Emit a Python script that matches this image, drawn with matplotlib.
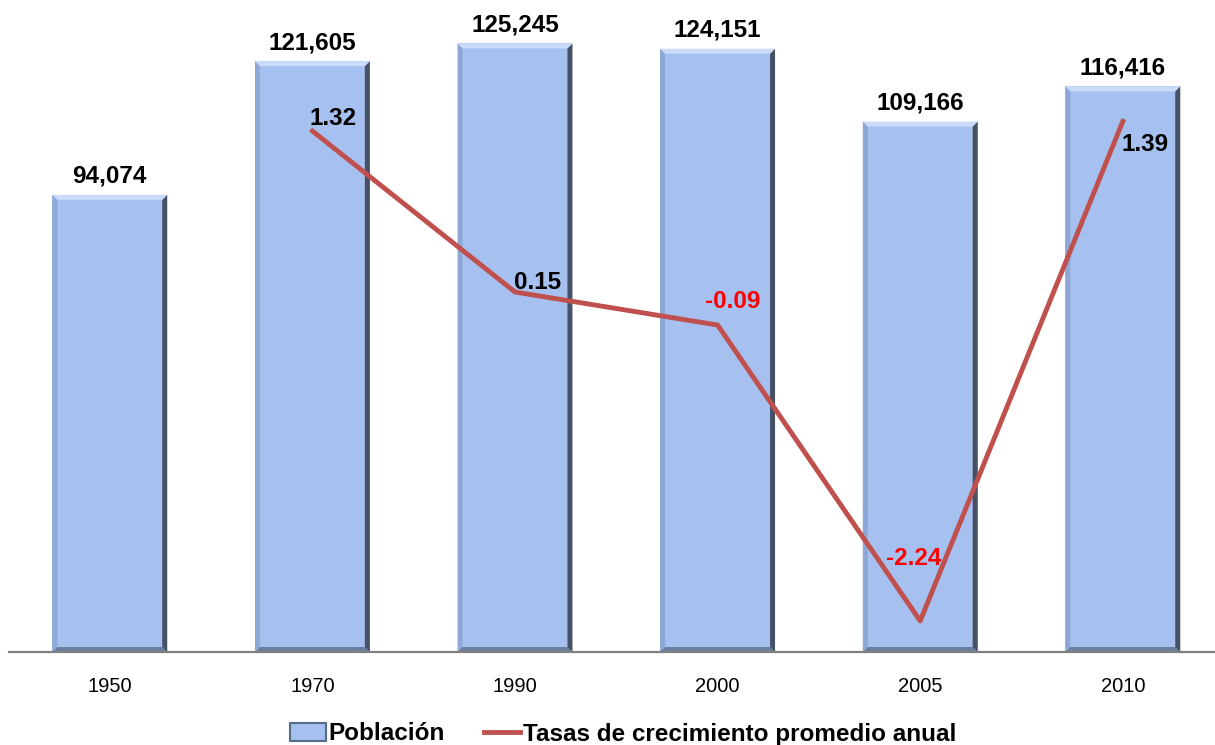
import numpy as np
import matplotlib.pyplot as plt
from matplotlib.patches import Polygon
from matplotlib.lines import Line2D
from matplotlib.patches import Patch

years = ["1950", "1970", "1990", "2000", "2005", "2010"]
poblacion = [94074, 121605, 125245, 124151, 109166, 116416]
tasa_years = ["1970", "1990", "2000", "2005", "2010"]
tasas = [1.32, 0.15, -0.09, -2.24, 1.39]

# label offsets (points) for the rate labels
tasa_offsets = [(15, 9), (16, 7), (11, 17), (-5, 45), (16, -17)]

plt.rcParams["font.family"] = ["Liberation Sans", "DejaVu Sans"]

fig = plt.figure(figsize=(12.15, 7.45), dpi=100)
ax = fig.add_axes([8.5 / 1215, 93 / 745, 1 - 8.5 / 1215, 652 / 745])
ax.set_xlim(-0.5, 5.455)
ax.set_ylim(0, 652 * 205.8)

x = np.arange(len(years))
w = 0.567
face = "#A6C1F0"
ax.bar(x, poblacion, width=w, color=face, edgecolor="none", zorder=2)

# bevel edges
bx = 5.0 / 202.8   # horizontal bevel in x units
by = 5.0 * 205.8   # vertical bevel in y units
for xi, h in zip(x, poblacion):
    l, r = xi - w / 2, xi + w / 2
    top = [(l, h), (r, h), (r - bx, h - by), (l + bx, h - by)]
    right = [(r, h), (r, 0), (r - bx, by), (r - bx, h - by)]
    bottom = [(l, 0), (r, 0), (r - bx, by), (l + bx, by)]
    left = [(l, 0), (l, h), (l + bx, h - by), (l + bx, by)]
    ax.add_patch(Polygon(left, closed=True, color="#8EA8D6", lw=0, zorder=3))
    ax.add_patch(Polygon(bottom, closed=True, color="#6C7E9E", lw=0, zorder=3))
    ax.add_patch(Polygon(right, closed=True, color="#465166", lw=0, zorder=3))
    ax.add_patch(Polygon(top, closed=True, color="#C9DBF9", lw=0, zorder=3))
    ax.annotate(f"{h:,}", (xi, h), xytext=(0, 5), textcoords="offset points",
                ha="center", va="bottom", fontsize=17.5, fontweight="bold", zorder=6)

ax.axhline(0, color="#808080", lw=1.6, zorder=4, clip_on=False)
for s in ax.spines.values():
    s.set_visible(False)
ax.set_yticks([])
ax.set_xticks(x)
ax.set_xticklabels(years, fontsize=14.5)
ax.tick_params(axis="x", length=0, pad=18)

ax2 = ax.twinx()
ax2.set_ylim(-2.466, 2.272)
ax2.set_yticks([])
for s in ax2.spines.values():
    s.set_visible(False)
tx = [years.index(t) for t in tasa_years]
ax2.plot(tx, tasas, color="#C0504D", lw=3.5, zorder=5)
for xi, v, off in zip(tx, tasas, tasa_offsets):
    ax2.annotate(f"{v:.2f}", (xi, v), xytext=off, textcoords="offset points",
                 ha="center", va="center", fontsize=17.5, fontweight="bold",
                 color="black" if v >= 0 else "#FF0000", zorder=6)

handles = [Patch(facecolor=face, edgecolor="#5A6B8A", lw=1.5),
           Line2D([0], [0], color="#C0504D", lw=3.5)]
fig.legend(handles, ["Población", "Tasas de crecimiento promedio anual"],
           loc="center", bbox_to_anchor=(623 / 1215, 11 / 745), ncol=2, frameon=False,
           prop={"weight": "bold", "size": 17.5}, handlelength=1.5, handletextpad=0.1,
           columnspacing=1.6, borderpad=0)

fig.savefig("out.png", dpi=100)
